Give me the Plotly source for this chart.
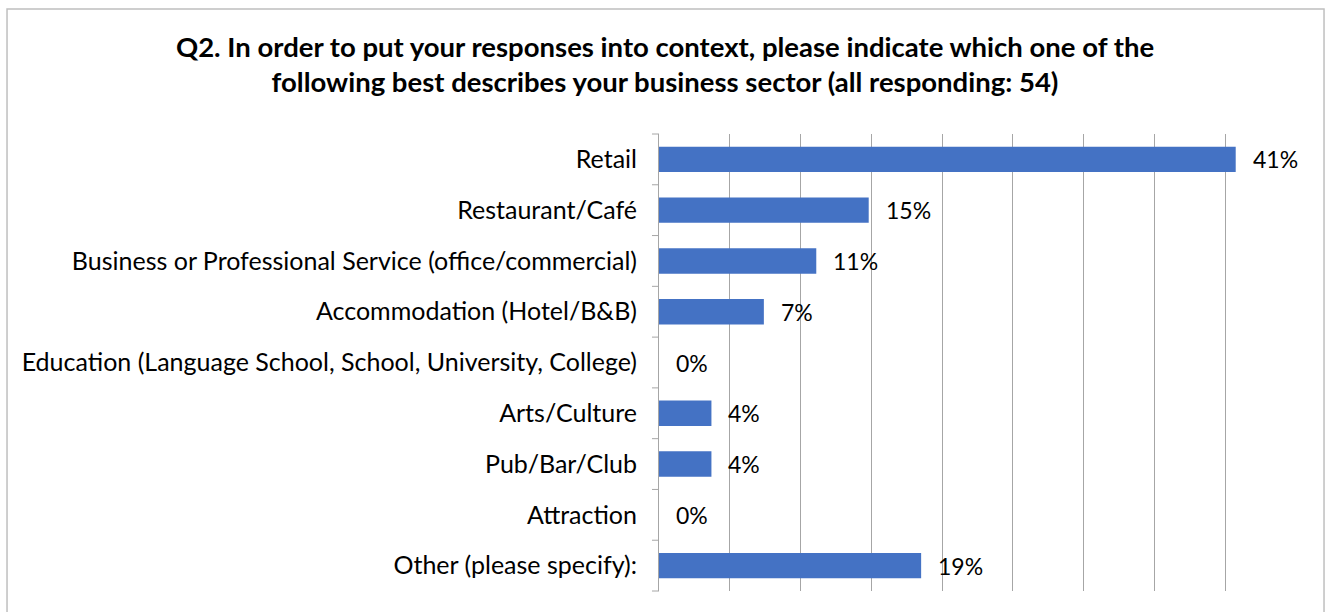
import plotly.graph_objects as go

# Survey question and answer options (all responding: 54)
title_lines = [
    "Q2. In order to put your responses into context, please indicate which one of the",
    "following best describes your business sector (all responding: 54)",
]
sectors = [
    "Retail",
    "Restaurant/Café",
    "Business or Professional Service (office/commercial)",
    "Accommodation (Hotel/B&B)",
    "Education (Language School, School, University, College)",
    "Arts/Culture",
    "Pub/Bar/Club",
    "Attraction",
    "Other (please specify):",
]
counts = [22, 8, 6, 4, 0, 2, 2, 0, 10]
total = 54
shares = [100 * c / total for c in counts]
labels = [f"{round(s)}%" for s in shares]

BAR_COLOR = "#4472C4"
FONT = "Lato, 'Open Sans', sans-serif"

fig = go.Figure(
    go.Bar(
        x=shares,
        y=sectors,
        orientation="h",
        marker=dict(color=BAR_COLOR, line=dict(width=0)),
        width=0.5,
        hoverinfo="skip",
    )
)

# value labels placed just past the end of each bar
for s, lab, cat in zip(shares, labels, sectors):
    fig.add_annotation(
        x=s, y=cat, text=lab, showarrow=False,
        xanchor="left", yanchor="middle", xshift=15,
        font=dict(family=FONT, size=23, color="#000000"),
    )

# outer chart frame
fig.add_shape(
    type="rect", xref="paper", yref="paper",
    x0=-1.0235, x1=1.044, y0=-0.08, y1=1.2735,
    line=dict(color="#BFBFBF", width=1.5), layer="below",
)

fig.update_layout(
    width=1330, height=612,
    margin=dict(l=659, r=34, t=134, b=21),
    paper_bgcolor="white", plot_bgcolor="white",
    showlegend=False,
    title=dict(
        text="<br>".join(title_lines),
        x=0.5, xanchor="center", xref="container",
        y=1 - 56.5 / 612, yanchor="middle", yref="container",
        font=dict(family=FONT, size=27.5, color="#000000", weight="bold"),
    ),
    font=dict(family=FONT, size=25, color="#000000"),
    xaxis=dict(
        range=[0, 45], dtick=5, showgrid=True, gridcolor="#A6A6A6", gridwidth=1,
        showticklabels=False, zeroline=False, showline=False, ticks="",
        fixedrange=True,
    ),
    yaxis=dict(
        autorange="reversed", showgrid=False, zeroline=False,
        showline=True, linecolor="#A6A6A6", linewidth=1,
        ticks="", ticklabelstandoff=16,
        tickfont=dict(family=FONT, size=25, color="#000000"),
        fixedrange=True,
    ),
)

# small tick marks on the category axis, at each category boundary
n = len(sectors)
for k in range(n + 1):
    fig.add_shape(
        type="line", xref="paper", yref="paper",
        x0=-0.011, x1=0, y0=k / n, y1=k / n,
        line=dict(color="#A6A6A6", width=1),
    )

fig.write_html("out.html")
